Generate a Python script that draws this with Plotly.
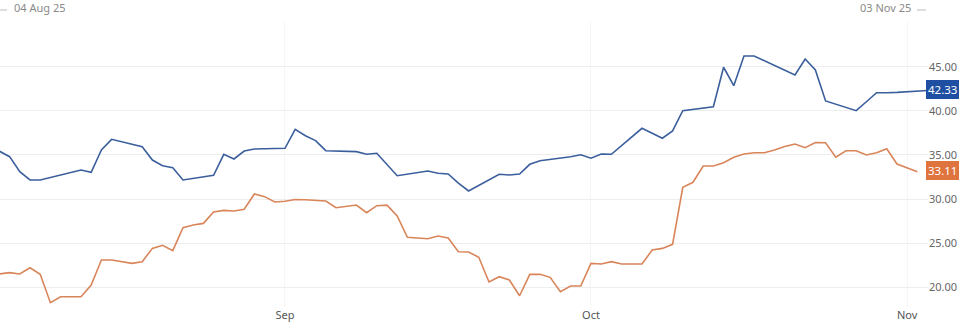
import pandas as pd
import plotly.graph_objects as go

# ---- data ----
blue_start, blue_end = "2025-08-04", "2025-11-03"   # weekdays
blue_values = [
    35.43, 34.81, 33.10, 32.16, 32.16,          # Aug 4-8
    32.95, 33.30, 33.03, 35.57, 36.78,          # Aug 11-15
    35.94, 34.43, 33.78, 33.56, 32.16,          # Aug 18-22
    32.69, 35.08, 34.55, 35.45, 35.68,          # Aug 25-29
    35.76, 37.92, 37.19, 36.63, 35.49,          # Sep 1-5
    35.38, 35.08, 35.19, 33.90, 32.65,          # Sep 8-12
    33.18, 32.92, 32.84, 31.80, 30.91,          # Sep 15-19
    32.81, 32.73, 32.84, 33.94, 34.35,          # Sep 22-26
    34.81, 35.03, 34.63, 35.11, 35.08,          # Sep 29 - Oct 3
    38.03, 37.47, 36.90, 37.73, 40.03,          # Oct 6-10
    40.49, 44.97, 42.88, 46.25, 46.25,          # Oct 13-17
    44.58, 44.09, 45.91, 44.66, 41.14,          # Oct 20-24
    40.03, 41.05, 42.08, 42.08, 42.12,          # Oct 27-31
    42.33,                                      # Nov 3
]
orange_start = "2025-08-04"                     # daily
orange_values = [
    21.48, 21.63, 21.48, 22.19, 21.44, 18.22, 18.90,
    18.90, 18.90, 20.23, 23.07, 23.07, 22.88, 22.69,
    22.88, 24.39, 24.74, 24.13, 26.74, 27.05, 27.23,
    28.52, 28.71, 28.64, 28.83, 30.57, 30.27, 29.66,
    29.74, 29.95, 29.92, 29.88, 29.77, 29.01, 29.20,
    29.32, 28.44, 29.24, 29.30, 28.07, 25.65, 25.57,
    25.49, 25.80, 25.57, 24.01, 23.98, 23.38, 20.57,
    21.17, 20.80, 19.01, 21.44, 21.44, 21.10, 19.47,
    20.11, 20.11, 22.69, 22.61, 22.88, 22.61, 22.61,
    22.61, 24.20, 24.39, 24.85, 31.33, 31.90, 33.75,
    33.75, 34.13, 34.74, 35.11, 35.26, 35.26, 35.57,
    35.97, 36.25, 35.83, 36.42, 36.40, 34.74, 35.48,
    35.48, 35.00, 35.26, 35.70, 33.98, 33.56, 33.11,
]
y_ticks = [20, 25, 30, 35, 40, 45]
range_labels = ["04 Aug 25", "03 Nov 25"]

blue_dates = pd.bdate_range(blue_start, blue_end)
orange_dates = pd.date_range(orange_start, periods=len(orange_values), freq="D")

BLUE = "#3b5f9c"
ORANGE = "#d9855a"
BLUE_BOX = "#1e4fa2"
ORANGE_BOX = "#e0743f"
FONT = "Noto Sans"

fig = go.Figure()
fig.add_trace(go.Scatter(x=blue_dates, y=blue_values, mode="lines",
                         line=dict(color=BLUE, width=1.6), hoverinfo="skip"))
fig.add_trace(go.Scatter(x=orange_dates, y=orange_values, mode="lines",
                         line=dict(color=ORANGE, width=1.6), hoverinfo="skip"))

fig.update_layout(
    width=960, height=324,
    margin=dict(l=0, r=32, t=22, b=17, autoexpand=False),
    paper_bgcolor="white", plot_bgcolor="white",
    showlegend=False,
    font=dict(family=FONT, size=11, color="#666666"),
)
fig.update_xaxes(
    type="date",
    range=["2025-08-04 01:25", "2025-11-03 01:00"],
    tick0="2025-09-01", dtick="M1", tickformat="%b",
    showgrid=True, gridcolor="#f5f5f5", gridwidth=1,
    zeroline=False, showline=False, ticks="",
    tickfont=dict(size=11, color="#555555"),
    automargin=False,
)
fig.update_yaxes(
    side="right",
    range=[17.73, 50.11],
    tickvals=y_ticks, ticktext=[f"{v:.2f}" for v in y_ticks],
    showgrid=True, gridcolor="#eeeeee", gridwidth=1,
    zeroline=False, showline=False, ticks="",
    tickfont=dict(size=11, color="#666666"),
    automargin=False,
)

# last-value boxes
for val, col in [(blue_values[-1], BLUE_BOX), (orange_values[-1], ORANGE_BOX)]:
    fig.add_annotation(
        xref="paper", yref="y", x=1, y=val, xanchor="left", yanchor="middle",
        xshift=-2, yshift=1, text=f"{val:.2f}", showarrow=False,
        font=dict(family=FONT, size=11.5, color="white"),
        bgcolor=col, bordercolor=col, borderpad=1,
    )

# range labels at the top
fig.add_annotation(xref="paper", yref="paper", x=12 / 928, y=1, yshift=5,
                   xanchor="left", yanchor="bottom", text=range_labels[0],
                   showarrow=False, font=dict(family=FONT, size=11, color="#8a8a8a"))
fig.add_annotation(xref="paper", yref="paper", x=913 / 928, y=1, yshift=5,
                   xanchor="right", yanchor="bottom", text=range_labels[1],
                   showarrow=False, font=dict(family=FONT, size=11, color="#8a8a8a"))
ytop = (324 - 17 - 10) / 285
fig.add_shape(type="line", xref="paper", yref="paper", x0=0, x1=7 / 928,
              y0=ytop, y1=ytop, line=dict(color="#bbbbbb", width=1))
fig.add_shape(type="line", xref="paper", yref="paper", x0=917 / 928, x1=926 / 928,
              y0=ytop, y1=ytop, line=dict(color="#bbbbbb", width=1))

fig.write_html("out.html", config={"displayModeBar": False})
